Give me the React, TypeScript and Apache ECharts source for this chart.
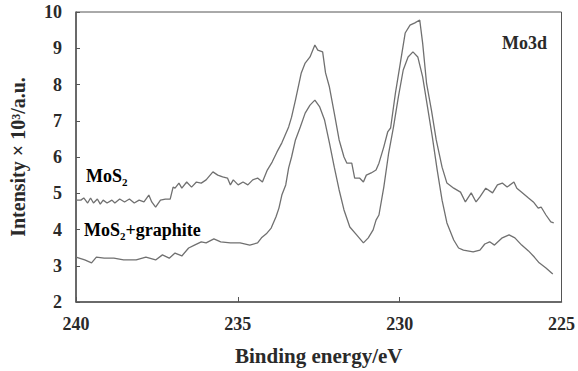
import React, { useEffect, useRef } from "react";
import * as echarts from "echarts";

const xTicks = [240, 235, 230, 225];
const yTicks = [2, 3, 4, 5, 6, 7, 8, 9, 10];

const mos2Energy = [
  240.0, 239.85, 239.76, 239.64, 239.55, 239.46, 239.34, 239.25, 239.16, 239.04,
  238.89, 238.8, 238.65, 238.5, 238.35, 238.2, 238.05, 237.9, 237.75, 237.66,
  237.54, 237.39, 237.24, 237.09, 237.0, 236.94, 236.82, 236.73, 236.58, 236.43,
  236.28, 236.13, 235.98, 235.77, 235.62, 235.47, 235.32, 235.23, 235.14, 234.99,
  234.84, 234.69, 234.54, 234.39, 234.24, 234.09, 233.94, 233.79, 233.64, 233.43,
  233.34, 233.22, 233.04, 232.92, 232.77, 232.62, 232.53, 232.38, 232.29, 232.17,
  232.02, 231.87, 231.72, 231.63, 231.48, 231.39, 231.24, 231.12, 231.03, 230.88,
  230.73, 230.64, 230.49, 230.37, 230.28, 230.13, 229.98, 229.83, 229.68, 229.53,
  229.38, 229.29, 229.17, 229.02, 228.87, 228.69, 228.54, 228.33, 228.12, 227.97,
  227.79, 227.64, 227.52, 227.34, 227.13, 226.98, 226.83, 226.68, 226.47, 226.38,
  226.23, 226.02, 225.87, 225.72, 225.63, 225.48, 225.33, 225.24,
];
const mos2Intensity = [
  4.81, 4.81, 4.87, 4.73, 4.87, 4.73, 4.84, 4.7, 4.81, 4.73,
  4.81, 4.73, 4.84, 4.76, 4.84, 4.73, 4.81, 4.76, 4.95, 4.76,
  4.62, 4.81, 4.84, 4.84, 5.17, 5.14, 5.28, 5.14, 5.31, 5.17,
  5.31, 5.28, 5.37, 5.59, 5.5, 5.45, 5.42, 5.23, 5.37, 5.23,
  5.31, 5.23, 5.37, 5.42, 5.31, 5.64, 5.86, 6.14, 6.39, 6.83,
  7.1, 7.57, 8.32, 8.59, 8.76, 9.09, 8.95, 8.9, 8.32, 7.93,
  7.21, 6.47, 6.0, 5.83, 5.83, 5.42, 5.42, 5.31, 5.5, 5.56,
  5.64, 5.83, 6.28, 6.69, 6.8, 7.77, 8.59, 9.42, 9.64, 9.7,
  9.78, 9.14, 8.04, 7.3, 6.47, 5.72, 5.28, 5.14, 5.03, 4.76,
  5.01, 4.76, 4.9, 5.14, 5.01, 5.23, 5.28, 5.17, 5.31, 5.14,
  5.03, 4.87, 4.76, 4.59, 4.62, 4.4, 4.21, 4.18,
];

const graphiteEnergy = [
  240.0, 239.73, 239.52, 239.37, 239.13, 238.83, 238.53, 238.14, 237.84, 237.54,
  237.33, 237.12, 236.94, 236.73, 236.52, 236.34, 236.13, 235.98, 235.74, 235.53,
  235.23, 234.93, 234.63, 234.39, 234.27, 234.12, 233.97, 233.82, 233.73, 233.64,
  233.52, 233.43, 233.34, 233.22, 233.07, 232.92, 232.77, 232.62, 232.47, 232.32,
  232.17, 232.02, 231.87, 231.72, 231.54, 231.33, 231.12, 230.97, 230.82, 230.73,
  230.64, 230.49, 230.34, 230.19, 230.04, 229.89, 229.74, 229.59, 229.44, 229.29,
  229.14, 228.99, 228.84, 228.69, 228.54, 228.33, 228.18, 228.03, 227.73, 227.52,
  227.37, 227.22, 227.07, 226.83, 226.62, 226.44, 226.23, 226.02, 225.84, 225.69,
  225.48, 225.27,
];
const graphiteIntensity = [
  3.24, 3.16, 3.08, 3.24, 3.21, 3.21, 3.16, 3.16, 3.24, 3.16,
  3.3, 3.21, 3.35, 3.27, 3.49, 3.57, 3.66, 3.63, 3.74, 3.66,
  3.63, 3.63, 3.57, 3.63, 3.77, 3.88, 4.04, 4.35, 4.59, 4.95,
  5.23, 5.7, 6.0, 6.47, 6.83, 7.21, 7.43, 7.57, 7.38, 7.02,
  6.39, 5.72, 5.09, 4.54, 4.07, 3.85, 3.63, 3.77, 3.99, 4.26,
  4.4, 5.17, 6.11, 6.83, 7.66, 8.4, 8.76, 8.9, 8.76, 8.21,
  7.38, 6.55, 5.64, 4.81, 4.18, 3.71, 3.49, 3.43, 3.38, 3.43,
  3.6, 3.66, 3.57, 3.77, 3.85, 3.77, 3.57, 3.41, 3.24, 3.08,
  2.94, 2.77,
];

const seriesNames = ["MoS2", "MoS2+graphite"];
const panelLabel = "Mo3d";
const xAxisName = "Binding energy/eV";
const yAxisName = "Intensity × 10³/a.u.";

const FONT = "Liberation Serif";
const TEXT = "#2a2a2a";
const LINE = "#707070";
const AXIS = "#555555";

export default function App() {
  const ref = useRef<HTMLDivElement>(null);
  useEffect(() => {
    if (!ref.current) return;
    const chart = echarts.init(ref.current, undefined, { renderer: "svg" });
    const pair = (xs: number[], ys: number[]) => xs.map((x, i) => [x, ys[i]]);
    const sub = {
      a: { fontFamily: FONT, fontSize: 18, fontWeight: "bold", color: TEXT, lineHeight: 22 },
      s: {
        fontFamily: FONT,
        fontSize: 11,
        fontWeight: "bold",
        color: TEXT,
        lineHeight: 22,
        verticalAlign: "bottom",
        padding: [8, 0, 0, 0],
      },
    };
    chart.setOption({
      animation: false,
      backgroundColor: "#ffffff",
      textStyle: { fontFamily: FONT },
      grid: {
        left: 71,
        right: 7,
        top: 12,
        bottom: 69,
        show: true,
        borderColor: AXIS,
        borderWidth: 1,
        containLabel: false,
      },
      xAxis: {
        type: "value",
        inverse: true,
        min: 225,
        max: 240,
        interval: 5,
        name: xAxisName,
        nameLocation: "middle",
        nameGap: 43,
        nameTextStyle: { fontFamily: FONT, fontSize: 21, fontWeight: "bold", color: TEXT },
        axisLine: { show: true, lineStyle: { color: AXIS, width: 1.5 } },
        axisTick: { show: true, inside: true, length: 5, lineStyle: { color: AXIS } },
        axisLabel: {
          fontFamily: FONT,
          fontSize: 18,
          fontWeight: "bold",
          color: TEXT,
          margin: 13,
          formatter: (v: number) => (xTicks.includes(v) ? String(v) : ""),
        },
        splitLine: { show: false },
      },
      yAxis: {
        type: "value",
        min: 2,
        max: 10,
        interval: 1,
        name: yAxisName,
        nameLocation: "middle",
        nameGap: 48,
        nameTextStyle: { fontFamily: FONT, fontSize: 20, fontWeight: "bold", color: TEXT },
        axisLine: { show: true, lineStyle: { color: AXIS, width: 1.5 } },
        axisTick: { show: true, inside: true, length: 4, lineStyle: { color: AXIS } },
        axisLabel: {
          fontFamily: FONT,
          fontSize: 18,
          fontWeight: "bold",
          color: TEXT,
          margin: 14,
          formatter: (v: number) => (yTicks.includes(v) ? String(v) : ""),
        },
        splitLine: { show: false },
      },
      series: [
        {
          name: seriesNames[0],
          type: "line",
          data: pair(mos2Energy, mos2Intensity),
          showSymbol: false,
          lineStyle: { color: LINE, width: 1.3 },
          itemStyle: { color: LINE },
        },
        {
          name: seriesNames[1],
          type: "line",
          data: pair(graphiteEnergy, graphiteIntensity),
          showSymbol: false,
          lineStyle: { color: LINE, width: 1.3 },
          itemStyle: { color: LINE },
        },
      ],
      graphic: [
        {
          type: "text",
          left: 86,
          top: 167,
          style: { text: "{a|MoS}{s|2}", rich: sub },
        },
        {
          type: "text",
          left: 84,
          top: 221,
          style: { text: "{a|MoS}{s|2}{a|+graphite}", rich: sub },
        },
        {
          type: "text",
          left: 502,
          top: 34,
          style: {
            text: panelLabel,
            fontFamily: FONT,
            fontSize: 18,
            fontWeight: "bold",
            fill: TEXT,
          },
        },
      ],
    });
    return () => chart.dispose();
  }, []);
  return (
    <div
      ref={ref}
      style={{ position: "fixed", left: 0, top: 0, width: 578, height: 371 }}
    />
  );
}
